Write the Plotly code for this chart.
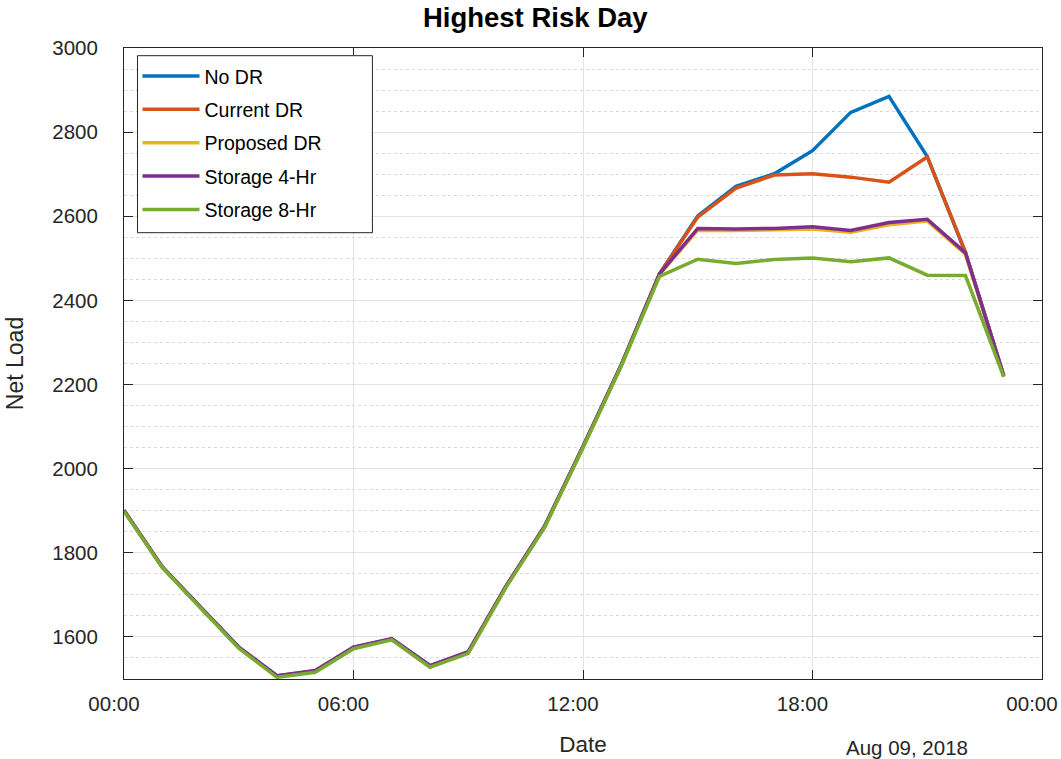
import plotly.graph_objects as go
import pandas as pd

hours = list(range(24))
no_dr = [1900, 1766, 1670, 1575, 1507, 1519, 1575, 1595, 1531, 1564, 1722, 1863, 2052, 2246, 2463,
         2601, 2671, 2701, 2756, 2847, 2885, 2742, 2513, 2221]
current_dr = [1900, 1766, 1670, 1575, 1507, 1519, 1575, 1595, 1531, 1564, 1722, 1863, 2052, 2246, 2463,
              2598, 2667, 2698, 2701, 2693, 2681, 2741, 2514, 2221]
proposed_dr = [1900, 1766, 1670, 1575, 1506, 1518, 1574, 1594, 1530, 1563, 1721, 1862, 2051, 2245, 2462,
               2567, 2566, 2567, 2570, 2562, 2580, 2589, 2510, 2219]
storage_4 = [1901, 1767, 1671, 1576, 1508, 1520, 1576, 1596, 1532, 1565, 1723, 1864, 2053, 2247, 2463,
             2571, 2570, 2571, 2575, 2566, 2585, 2593, 2513, 2221]
storage_8 = [1899, 1765, 1669, 1573, 1504, 1516, 1572, 1593, 1528, 1561, 1720, 1861, 2050, 2244, 2457,
             2498, 2488, 2497, 2501, 2492, 2501, 2460, 2459, 2218]

names = ["No DR", "Current DR", "Proposed DR", "Storage 4-Hr", "Storage 8-Hr"]
colors = ["#0072BD", "#D95319", "#EDB120", "#7E2F8E", "#77AC30"]
series = [no_dr, current_dr, proposed_dr, storage_4, storage_8]

day = pd.Timestamp("2018-08-09")
x = [day + pd.Timedelta(hours=h) for h in hours]

fig = go.Figure()
for i, (nm, col, ys) in enumerate(zip(names, colors, series)):
    fig.add_trace(go.Scatter(x=x, y=ys, mode="lines", name=nm, legendgroup=nm,
                             line=dict(color=col, width=3.5)))

font = "Liberation Sans, Arial, sans-serif"
axcol = "#262626"
fig.update_layout(
    width=1061, height=759,
    margin=dict(l=124, r=19, t=48, b=80, autoexpand=False),
    plot_bgcolor="white", paper_bgcolor="white",
    font=dict(family=font, size=20.5, color=axcol),
    title=dict(text="<b>Highest Risk Day</b>", x=0.448, xref="paper", xanchor="center",
               y=0.977, yanchor="middle", font=dict(size=27.5, color="#000000")),
    legend=dict(x=0.0147, y=0.986, xanchor="left", yanchor="top",
                bgcolor="rgba(0,0,0,0)", borderwidth=0,
                font=dict(size=19.5, color="#000000"), itemwidth=57,
                tracegroupgap=5),
    showlegend=True,
)
# legend frame (MATLAB-style box)
fig.add_shape(type="rect", xref="paper", yref="paper", x0=0.0147, x1=0.2706, y0=0.7073, y1=0.9878,
              fillcolor="white", line=dict(color=axcol, width=1), layer="above")
fig.update_xaxes(
    range=[day, day + pd.Timedelta(hours=24)],
    tickformat="%H:%M", dtick=6 * 3600 * 1000, tick0=day,
    showgrid=True, gridcolor="#e3e3e3", gridwidth=1,
    showline=True, linecolor=axcol, linewidth=1, mirror="ticks",
    ticks="inside", ticklen=9, tickcolor=axcol,
    ticklabelshift=-10, ticklabelstandoff=6,
    title=dict(text="Date", font=dict(size=22.5), standoff=22),
    zeroline=False, automargin=False,
)
fig.update_yaxes(
    range=[1500, 3000], dtick=200, tick0=1600,
    showgrid=True, gridcolor="#e3e3e3", gridwidth=1,
    minor=dict(dtick=50, showgrid=True, gridcolor="#d9d9d9", griddash="dot", gridwidth=1),
    showline=True, linecolor=axcol, linewidth=1, mirror="ticks",
    ticks="inside", ticklen=9, tickcolor=axcol,
    ticklabelstandoff=21,
    title=dict(text="Net Load", font=dict(size=23), standoff=22),
    zeroline=False, automargin=False,
)
fig.add_annotation(text="Aug 09, 2018", xref="paper", yref="paper", x=0.853, y=-0.108,
                   xanchor="center", yanchor="middle", showarrow=False,
                   font=dict(size=20.5, color=axcol))

fig.write_html("out.html", config={"displayModeBar": False},
               post_script="document.body.style.margin='0';")
